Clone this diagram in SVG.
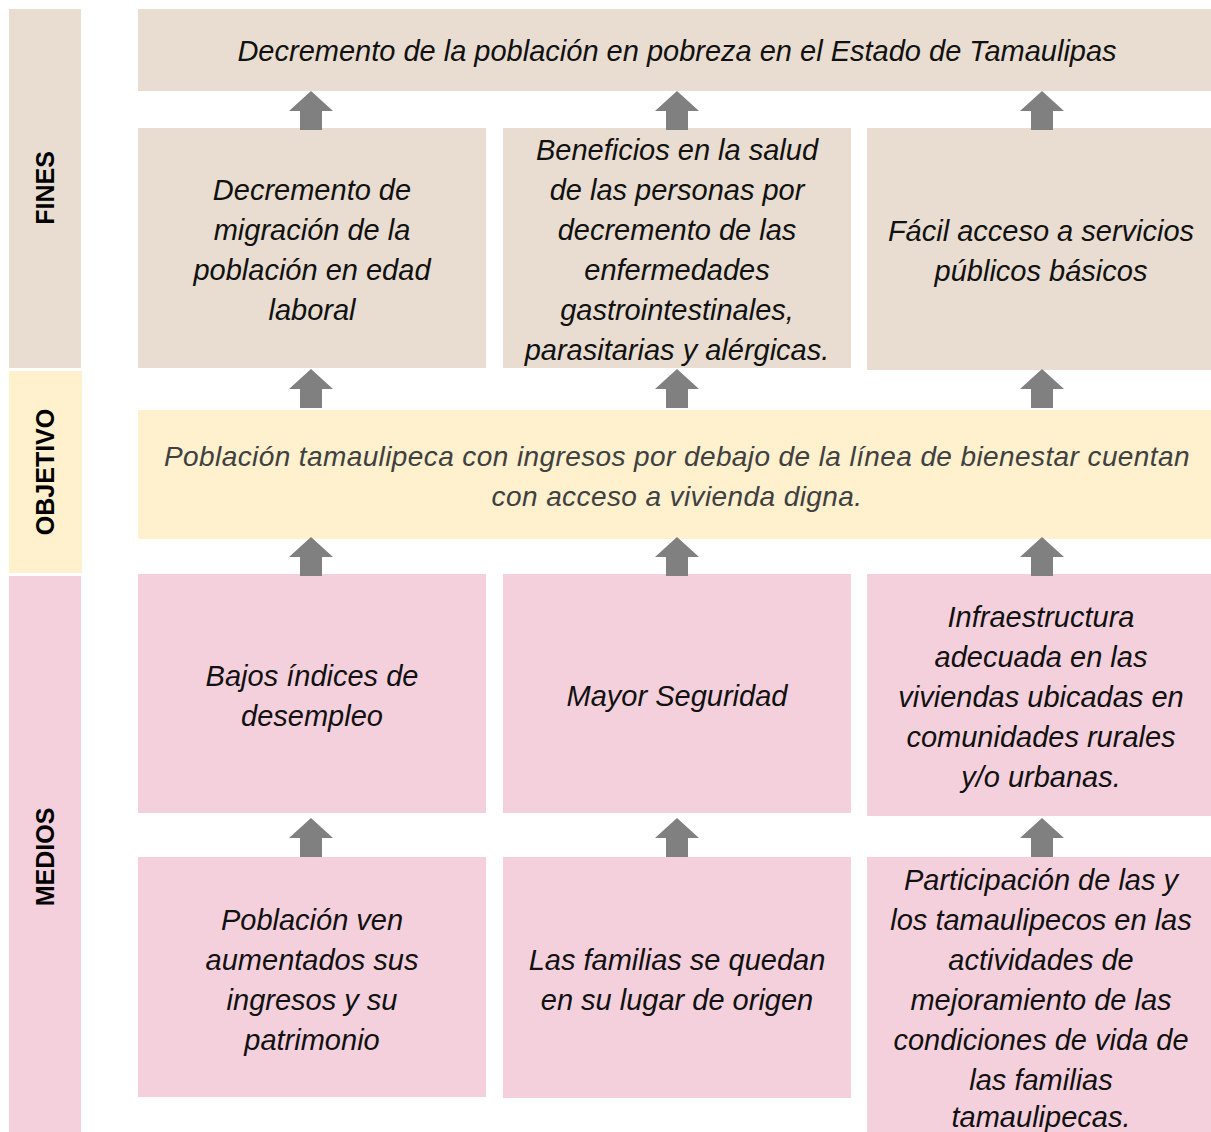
<svg xmlns="http://www.w3.org/2000/svg" width="1211" height="1132" viewBox="0 0 1211 1132">
<style>
.fin{fill:#E8DDD0}
.obj{fill:#FFF0CE}
.med{fill:#F4D0DC}
.t{font-family:"Liberation Sans",Arial,sans-serif;font-style:italic;font-size:29px;fill:#111;text-anchor:middle}
.to{font-family:"Liberation Sans",Arial,sans-serif;font-style:italic;font-size:28px;fill:#404040;text-anchor:middle;letter-spacing:0.4px}
.lbl{font-family:"Liberation Sans",Arial,sans-serif;font-weight:bold;font-size:25px;fill:#000;text-anchor:middle}
.arr{fill:#808080}
</style>
<defs>
<path id="a" d="M0,0 L22,20 L11,20 L11,39 L-11,39 L-11,20 L-22,20 Z"/>
</defs>
<rect width="1211" height="1132" fill="#fff"/>
<g id="lbl-fines"><rect class="fin" x="9" y="9" width="72" height="359"/><text class="lbl" transform="translate(54,188) rotate(-90)">FINES</text></g>
<g id="lbl-objetivo"><rect class="obj" x="9" y="371" width="73" height="202"/><text class="lbl" transform="translate(54,472) rotate(-90)">OBJETIVO</text></g>
<g id="lbl-medios"><rect class="med" x="9" y="576" width="72" height="556"/><text class="lbl" transform="translate(54,857) rotate(-90)">MEDIOS</text></g>

<g id="fin-top"><rect class="fin" x="138" y="9" width="1073" height="82"/><text class="t" x="677" y="61">Decremento de la población en pobreza en el Estado de Tamaulipas</text></g>
<g id="fin-1"><rect class="fin" x="138" y="128" width="348" height="240"/><text class="t" x="312"><tspan x="312" y="200">Decremento de</tspan><tspan x="312" y="240">migración de la</tspan><tspan x="312" y="280">población en edad</tspan><tspan x="312" y="320">laboral</tspan></text></g>
<g id="fin-2"><rect class="fin" x="503" y="128" width="348" height="240"/><text class="t" x="677"><tspan x="677" y="160">Beneficios en la salud</tspan><tspan x="677" y="200">de las personas por</tspan><tspan x="677" y="240">decremento de las</tspan><tspan x="677" y="280">enfermedades</tspan><tspan x="677" y="320">gastrointestinales,</tspan><tspan x="677" y="360">parasitarias y alérgicas.</tspan></text></g>
<g id="fin-3"><rect class="fin" x="867" y="128" width="344" height="242"/><text class="t" x="1041"><tspan x="1041" y="241">Fácil acceso a servicios</tspan><tspan x="1041" y="281">públicos básicos</tspan></text></g>

<g id="objetivo"><rect class="obj" x="138" y="410" width="1073" height="129"/><text class="to" x="677"><tspan x="677" y="466">Población tamaulipeca con ingresos por debajo de la línea de bienestar cuentan</tspan><tspan x="677" y="506">con acceso a vivienda digna.</tspan></text></g>

<g id="med-1"><rect class="med" x="138" y="574" width="348" height="239"/><text class="t" x="312"><tspan x="312" y="686">Bajos índices de</tspan><tspan x="312" y="726">desempleo</tspan></text></g>
<g id="med-2"><rect class="med" x="503" y="574" width="348" height="239"/><text class="t" x="677" y="706">Mayor Seguridad</text></g>
<g id="med-3"><rect class="med" x="867" y="574" width="344" height="242"/><text class="t" x="1041"><tspan x="1041" y="627">Infraestructura</tspan><tspan x="1041" y="667">adecuada en las</tspan><tspan x="1041" y="707">viviendas ubicadas en</tspan><tspan x="1041" y="747">comunidades rurales</tspan><tspan x="1041" y="787">y/o urbanas.</tspan></text></g>

<g id="med-4"><rect class="med" x="138" y="857" width="348" height="240"/><text class="t" x="312"><tspan x="312" y="930">Población ven</tspan><tspan x="312" y="970">aumentados sus</tspan><tspan x="312" y="1010">ingresos y su</tspan><tspan x="312" y="1050">patrimonio</tspan></text></g>
<g id="med-5"><rect class="med" x="503" y="857" width="348" height="241"/><text class="t" x="677"><tspan x="677" y="970">Las familias se quedan</tspan><tspan x="677" y="1010">en su lugar de origen</tspan></text></g>
<g id="med-6"><rect class="med" x="867" y="857" width="344" height="275"/><text class="t" x="1041"><tspan x="1041" y="890">Participación de las y</tspan><tspan x="1041" y="930">los tamaulipecos en las</tspan><tspan x="1041" y="970">actividades de</tspan><tspan x="1041" y="1010">mejoramiento de las</tspan><tspan x="1041" y="1050">condiciones de vida de</tspan><tspan x="1041" y="1090">las familias</tspan><tspan x="1041" y="1127">tamaulipecas.</tspan></text></g>

<g id="connectors" class="arr">
<use href="#a" x="311" y="91"/><use href="#a" x="677" y="91"/><use href="#a" x="1042" y="91"/>
<use href="#a" x="311" y="369"/><use href="#a" x="677" y="369"/><use href="#a" x="1042" y="369"/>
<use href="#a" x="311" y="537"/><use href="#a" x="677" y="537"/><use href="#a" x="1042" y="537"/>
<use href="#a" x="311" y="818"/><use href="#a" x="677" y="818"/><use href="#a" x="1042" y="818"/>
</g>
</svg>
